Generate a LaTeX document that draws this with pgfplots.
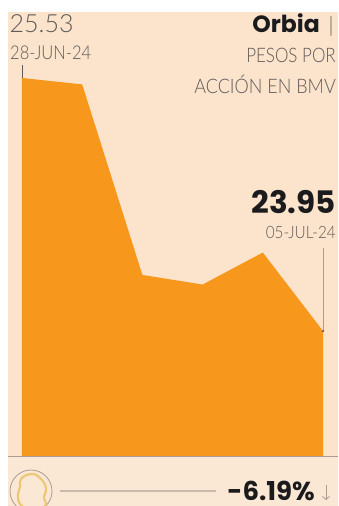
\documentclass[border=0pt]{standalone}
\usepackage{pgfplots}
\pgfplotsset{compat=1.18}
\usepackage{fontspec}
\usetikzlibrary{arrows.meta}
\setmainfont{Poppins}
\newfontfamily\thin{Lato Light}
\definecolor{peach}{HTML}{FBE3CC}
\definecolor{peachlow}{HTML}{FAE8D4}
\definecolor{fillorange}{HTML}{F7981D}
\definecolor{softgray}{HTML}{5F5A58}
\definecolor{rulegray}{HTML}{A99C94}
\definecolor{ink}{HTML}{1B1A1C}
\definecolor{ringyellow}{HTML}{EBC878}
\pgfplotstableread{
idx price
0 23.17
0 25.53
1 25.49
2 24.30
3 24.24
4 24.44
5 23.95
5 23.17
}\orbia
\begin{document}
\begin{tikzpicture}[x=1pt,y=-1pt]
\path[use as bounding box] (0,0) rectangle (338,506);
\fill[peach] (8,12) rectangle (338,457);
\fill[peachlow] (8,457) rectangle (338,506);
\begin{axis}[
  at={(0,0)}, anchor=north west,
  scale only axis, width=338pt, height=506pt,
  xmin=-0.3654, xmax=5.249, ymin=22.857, ymax=26.017,
  axis lines=none, clip=true,
]
\addplot[fill=fillorange, draw=none] table[x=idx,y=price] {\orbia} -- cycle;
\end{axis}
\draw[rulegray, line width=0.9pt] (8,456.5) -- (338,456.5);
% leaders from the labels down to the first and last points
\draw[softgray, line width=0.5pt] (22,65) -- (22,78);
\draw[rulegray, line width=0.7pt] (323,248) -- (323,331);
\fill[softgray!70!black] (323,331) circle (1pt);
% labels
\node[anchor=base west, text=softgray, inner sep=0pt] at (9.5,32) {\thin\fontsize{25}{25}\selectfont 25.53};
\node[anchor=base west, text=softgray, inner sep=0pt] at (10,59) {\thin\fontsize{19}{19}\selectfont\scalebox{.87}[1]{28-JUN-24}};
\node[anchor=base east, text=ink, inner sep=0pt] at (320,32) {\fontsize{23.5}{23.5}\selectfont\bfseries Orbia};
\node[anchor=base, text=softgray, inner sep=0pt] at (331,32) {\thin\fontsize{21}{21}\selectfont |};
\node[anchor=base east, text=softgray, inner sep=0pt] at (336,62) {\thin\fontsize{20}{20}\selectfont\scalebox{.85}[1]{PESOS POR}};
\node[anchor=base east, text=softgray, inner sep=0pt] at (336,93) {\thin\fontsize{20}{20}\selectfont\scalebox{.9}[1]{ACCIÓN EN BMV}};
\node[anchor=base east, text=ink, inner sep=0pt] at (336,213) {\fontsize{31}{31}\selectfont\bfseries 23.95};
\node[anchor=base east, text=softgray, inner sep=0pt] at (336,238) {\thin\fontsize{17}{17}\selectfont\scalebox{.9}[1]{05-JUL-24}};
% change strip
\begin{scope}
\clip (8,457) rectangle (338,506);
\draw[rulegray, line width=0.8pt] (31,491) circle (21);
\draw[ringyellow, line width=2.2pt] plot[smooth cycle, tension=0.8] coordinates {(31,474) (40,478) (46,488) (44,497) (45,506) (31,510) (21,505) (18,496) (20,487) (21,479)};
\end{scope}
\draw[rulegray!60!peachlow, line width=1.6pt] (60,491) -- (216,491);
\node[anchor=base east, text=ink, inner sep=0pt] at (315,500.5) {\fontsize{26}{26}\selectfont\bfseries -6.19\%};
\draw[rulegray, line width=0.8pt, -{Straight Barb[length=3pt,width=7pt]}] (326,485) -- (326,500);
\end{tikzpicture}
\end{document}
